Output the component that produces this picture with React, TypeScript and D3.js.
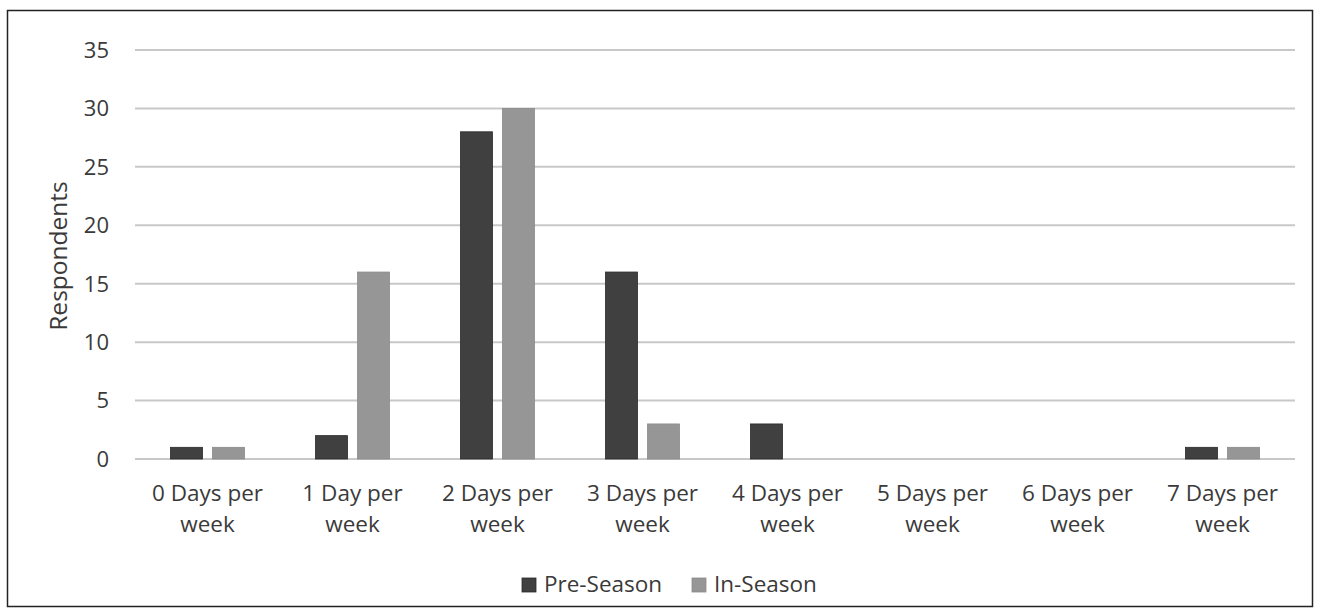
import React from "react";
import * as d3 from "d3";

const categories = [
  ["0 Days per", "week"],
  ["1 Day per", "week"],
  ["2 Days per", "week"],
  ["3 Days per", "week"],
  ["4 Days per", "week"],
  ["5 Days per", "week"],
  ["6 Days per", "week"],
  ["7 Days per", "week"],
];
const preSeason = [1, 2, 28, 16, 3, 0, 0, 1];
const inSeason = [1, 16, 30, 3, 0, 0, 0, 1];
const yTicks = [0, 5, 10, 15, 20, 25, 30, 35];
const seriesNames = ["Pre-Season", "In-Season"];
const seriesColors = ["#404040", "#969696"];
const seriesStroke = ["#2a2a2a", "#8a8a8a"];

const W = 1320;
const H = 615;
const FONT = "'Open Sans', 'Noto Sans', sans-serif";
const TEXT = "#3a3a3a";

export default function App() {
  const left = 135, right = 1295, top = 50, bottom = 459;
  const x = d3.scaleBand<number>().domain(d3.range(categories.length)).range([left, right]);
  const y = d3.scaleLinear().domain([0, 35]).range([bottom, top]);
  const barW = 32;
  const off = 21;
  const series = [preSeason, inSeason];
  return (
    <svg width={W} height={H} style={{ position: "absolute", left: 0, top: 0 }} fontFamily={FONT}>
      <rect x={0} y={0} width={W} height={H} fill="#fff" />
      <rect x={7.5} y={10.5} width={1305} height={596} fill="none" stroke="#222" strokeWidth={1.5} />
      {yTicks.map((t) => (
        <g key={t}>
          <line x1={left} x2={right} y1={y(t)} y2={y(t)} stroke="#c8c8c8" strokeWidth={2} />
          <text x={109} y={y(t)} dy="0.36em" textAnchor="end" fontSize={22} fill={TEXT}>
            {t}
          </text>
        </g>
      ))}
      {series.map((vals, si) =>
        vals.map((v, i) => {
          const cx = (x(i) as number) + x.bandwidth() / 2 + (si === 0 ? -off : off);
          return (
            <rect
              key={si + "-" + i}
              x={cx - barW / 2}
              y={y(v)}
              width={barW}
              height={bottom - y(v)}
              fill={seriesColors[si]}
              stroke={seriesStroke[si]}
              strokeWidth={0.8}
            />
          );
        })
      )}
      {categories.map((c, i) => {
        const cx = (x(i) as number) + x.bandwidth() / 2;
        return (
          <text key={i} x={cx} textAnchor="middle" fontSize={22.5} fill={TEXT}>
            <tspan x={cx} y={501}>{c[0]}</tspan>
            <tspan x={cx} y={532}>{c[1]}</tspan>
          </text>
        );
      })}
      <text
        transform={`translate(67, 256) rotate(-90)`}
        textAnchor="middle"
        fontSize={24.5}
        fill={TEXT}
      >
        Respondents
      </text>
      {seriesNames.map((n, i) => {
        const lx = i === 0 ? 522 : 692;
        return (
          <g key={n}>
            <rect x={lx} y={578} width={14} height={14} fill={seriesColors[i]} stroke={seriesStroke[i]} strokeWidth={0.8} />
            <text x={lx + 22} y={592} fontSize={22.5} fill={TEXT}>
              {n}
            </text>
          </g>
        );
      })}
    </svg>
  );
}
